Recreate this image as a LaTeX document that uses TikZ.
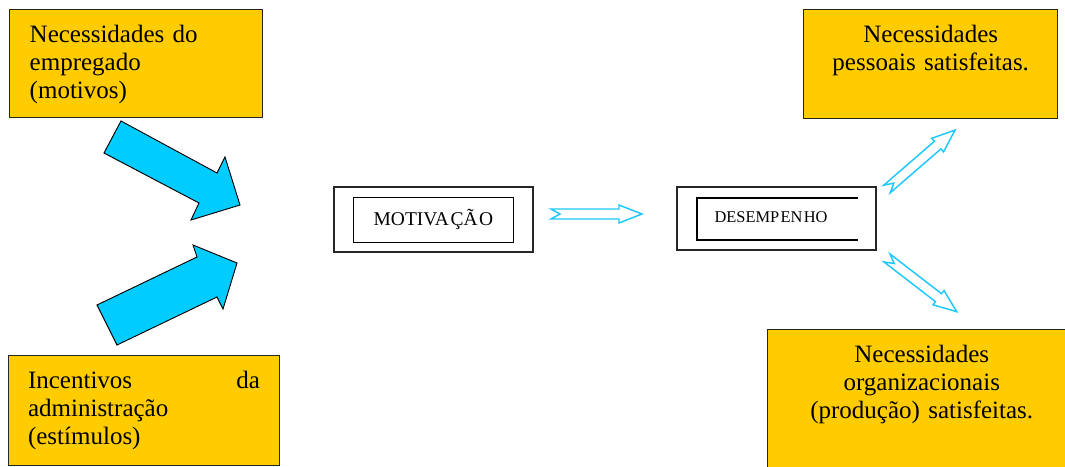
\documentclass[tikz,border=0pt]{standalone}
\usepackage{fontspec}
\setmainfont{Liberation Serif}
\usepackage{tikz}

\definecolor{needgold}{RGB}{255,204,0}
\definecolor{arrowcyan}{RGB}{0,204,255}
\definecolor{linecyan}{RGB}{30,200,255}

\tikzset{
  needbox/.style={draw=black!85, line width=1.1pt, fill=needgold, inner ysep=0pt,
    anchor=north west, font=\fontsize{18.75}{20.8}\selectfont, text height=24.75pt},
  outerframe/.style={draw=black!85, line width=1.1pt, inner sep=0pt},
  innerframe/.style={draw=black, line width=0.7pt, inner sep=0pt},
  bigarrow/.style={draw=black, line width=0.7pt, fill=arrowcyan, line join=miter},
  pics/hollowarrow/.style={code={
    \draw[draw=linecyan, line width=1.1pt, line join=miter]
      (0,-5) -- (#1-23,-5) -- (#1-23,-9) -- (#1,0) -- (#1-23,9) -- (#1-23,5) -- (0,5) -- (9,0) -- cycle;
  }}
}

\begin{document}
\begin{tikzpicture}[x=0.75pt,y=-0.75pt]
  \useasboundingbox (0,0) rectangle (1065,467);

  % Needs and incentives
  \node[needbox, align=left, text width=159.75pt, inner xsep=15pt, text depth=56.25pt]
    (employee) at (9,9) {Necessidades do\\ empregado\\ (motivos)};
  \node[needbox, align=left, text width=174pt, inner xsep=14.5pt, text depth=57.75pt]
    (incentive) at (8,355) {Incentivos \hfill da\\ administração\\ (estímulos)};

  % Big arrows into motivation
  \draw[bigarrow] (121,121) -- (217,173) -- (225,157) -- (240,205) -- (191,220) -- (199,203) -- (104,153) -- cycle;
  \draw[bigarrow] (97,305) -- (197,257) -- (193,245) -- (237,263) -- (223,309) -- (217,297) -- (117,345) -- cycle;

  % Motivation
  \node[outerframe, minimum width=149.25pt, minimum height=48.75pt] (motiv) at (433.5,219.5) {};
  \node[innerframe, minimum width=120pt, minimum height=33.75pt, font=\fontsize{14.6}{17}\selectfont]
    (motivtext) at (motiv.center) {MOTIVA\kern1.2pt ÇÃ\kern1.2pt O};

  \pic at (551,214) {hollowarrow=91};

  % Performance
  \node[outerframe, minimum width=149.25pt, minimum height=47.25pt] (perf) at (776.5,218.5) {};
  \draw[line width=0.8pt] (858,198) -| (697,240) -- (858,240);
  \node[font=\fontsize{12.3}{14}\selectfont] (perftext) at (771,217) {DESEMP\kern1pt EN\kern1pt HO};

  \pic[rotate=40.9] at (887,189) {hollowarrow=90};
  \pic[rotate=-37.6] at (887,258) {hollowarrow=88};

  % Satisfied needs
  \node[needbox, align=center, text width=190.5pt, inner xsep=0pt, text depth=57pt]
    (personal) at (803,9) {Necessidades\\ pessoais satisfeitas.};
  \node[needbox, align=center, text width=231pt, inner xsep=0pt, text depth=88.5pt]
    (company) at (767,329) {Necessidades\\ organizacionais\\ (produção) satisfeitas.};
\end{tikzpicture}
\end{document}
